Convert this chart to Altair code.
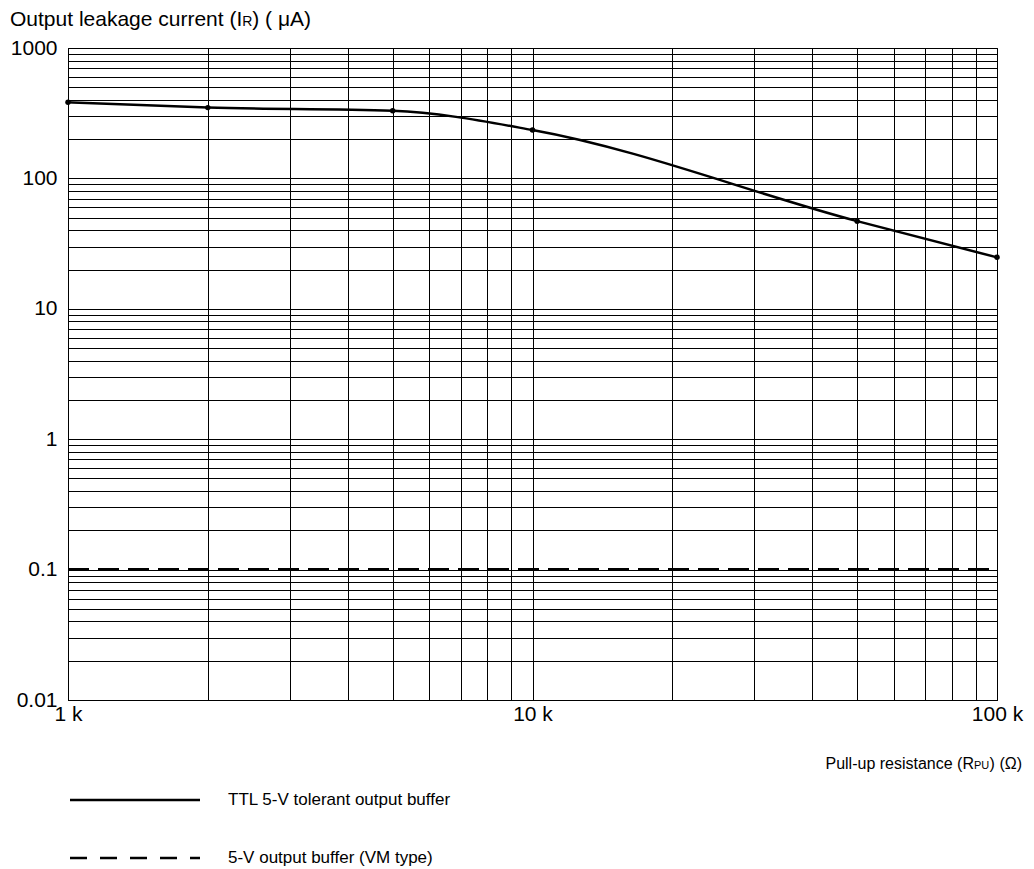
import altair as alt
import pandas as pd

# ---- data ----
resistance_ohm = [1000, 2000, 5000, 10000, 50000, 100000]
ttl_leakage_uA = [383, 349, 330, 235, 47, 24.8]

vm_resistance_ohm = [1000, 100000]
vm_leakage_uA = [0.1, 0.1]

# grid / tick positions
x_grid = [1000, 2000, 3000, 4000, 5000, 6000, 7000, 8000, 9000,
          10000, 20000, 30000, 40000, 50000, 60000, 70000, 80000, 90000, 100000]
y_grid = [0.01, 0.02, 0.03, 0.04, 0.05, 0.06, 0.07, 0.08, 0.09,
          0.1, 0.2, 0.3, 0.4, 0.5, 0.6, 0.7, 0.8, 0.9,
          1, 2, 3, 4, 5, 6, 7, 8, 9,
          10, 20, 30, 40, 50, 60, 70, 80, 90,
          100, 200, 300, 400, 500, 600, 700, 800, 900, 1000]

x_label_expr = ("datum.value == 1000 ? '1 k' : datum.value == 10000 ? '10 k' : "
                "datum.value == 100000 ? '100 k' : ''")
y_label_expr = ("datum.value == 0.01 ? '0.01' : datum.value == 0.1 ? '0.1' : "
                "datum.value == 1 ? '1' : datum.value == 10 ? '10' : "
                "datum.value == 100 ? '100' : datum.value == 1000 ? '1000' : ''")

FONT = "Liberation Sans"
TICK_FS = 21
W, H = 929, 652

ttl_df = pd.DataFrame({"R": resistance_ohm, "I": ttl_leakage_uA})
vm_df = pd.DataFrame({"R": vm_resistance_ohm, "I": vm_leakage_uA})
one = pd.DataFrame({"k": [0]})

x_scale = alt.Scale(type="log", domain=[1000, 100000], nice=False)
y_scale = alt.Scale(type="log", domain=[0.01, 1000], nice=False)

x_axis = alt.Axis(values=x_grid, labelExpr=x_label_expr, grid=True, ticks=False,
                  title=None, labelFont=FONT, labelFontSize=TICK_FS, labelColor="black",
                  labelPadding=3, gridColor="black", gridOpacity=1, gridWidth=1,
                  domainColor="black", labelFlush=False, labelOverlap=False)
y_axis = alt.Axis(values=y_grid, labelExpr=y_label_expr, grid=True, ticks=False,
                  title=None, labelFont=FONT, labelFontSize=TICK_FS, labelColor="black",
                  labelPadding=11, gridColor="black", gridOpacity=1, gridWidth=1,
                  domainColor="black", labelFlush=False, labelOverlap=False)

base = alt.Chart(ttl_df)

ttl_line = base.mark_line(color="black", strokeWidth=2.5, interpolate="monotone").encode(
    x=alt.X("R:Q", scale=x_scale, axis=x_axis),
    y=alt.Y("I:Q", scale=y_scale, axis=y_axis),
)
ttl_pts = base.mark_circle(color="black", size=30, opacity=1).encode(
    x=alt.X("R:Q", scale=x_scale),
    y=alt.Y("I:Q", scale=y_scale),
)
vm_line = alt.Chart(vm_df).mark_line(color="black", strokeWidth=3, strokeDash=[21, 9]).encode(
    x=alt.X("R:Q", scale=x_scale),
    y=alt.Y("I:Q", scale=y_scale),
)


def txt(text, x, y, size, align="left", baseline="alphabetic"):
    return alt.Chart(one).mark_text(
        text=text, font=FONT, fontSize=size, align=align, baseline=baseline, color="black"
    ).encode(x=alt.value(x), y=alt.value(y))


# title: "Output leakage current (IR) (μA)" with small R
T_FS = 21
tA = 11.061 * T_FS
title_y = -22
title = (
    txt("Output leakage current (I", -58, title_y, T_FS)
    + txt("R", -58 + tA, title_y, 14)
    + txt(") ( μA)", -58 + tA + 10, title_y, T_FS)
)

# x-axis title: "Pull-up resistance (RPU) (Ω)" with small PU, anchored at the right
X_FS = 16
xt_y = 721
xt_right = 954
c_w = 2.047 * X_FS
pu_w = 1.389 * 11
xtitle = (
    txt(") (Ω)", xt_right, xt_y, X_FS, align="right")
    + txt("PU", xt_right - c_w, xt_y, 11, align="right")
    + txt("Pull-up resistance (R", xt_right - c_w - pu_w, xt_y, X_FS, align="right")
)

# legend
L_FS = 17
leg1_y = 752
leg2_y = 810
legend = (
    alt.Chart(one).mark_rule(color="black", strokeWidth=2.5).encode(
        x=alt.value(2), x2=alt.value(132), y=alt.value(leg1_y))
    + alt.Chart(one).mark_rule(color="black", strokeWidth=2.5, strokeDash=[17, 13]).encode(
        x=alt.value(2), x2=alt.value(132), y=alt.value(leg2_y))
    + txt("TTL 5-V tolerant output buffer", 160, leg1_y, L_FS, baseline="middle")
    + txt("5-V output buffer (VM type)", 160, leg2_y, L_FS, baseline="middle")
)

chart = alt.layer(vm_line, ttl_line, ttl_pts, title, xtitle, legend).properties(
    width=W, height=H,
    autosize=alt.AutoSizeParams(type="none"),
    padding={"left": 68, "top": 48, "right": 1034 - 68 - W, "bottom": 869 - 48 - H},
    background="white",
).configure_view(stroke="black", strokeWidth=1)

chart.save("out.html", embed_options={"renderer": "svg", "actions": False})
